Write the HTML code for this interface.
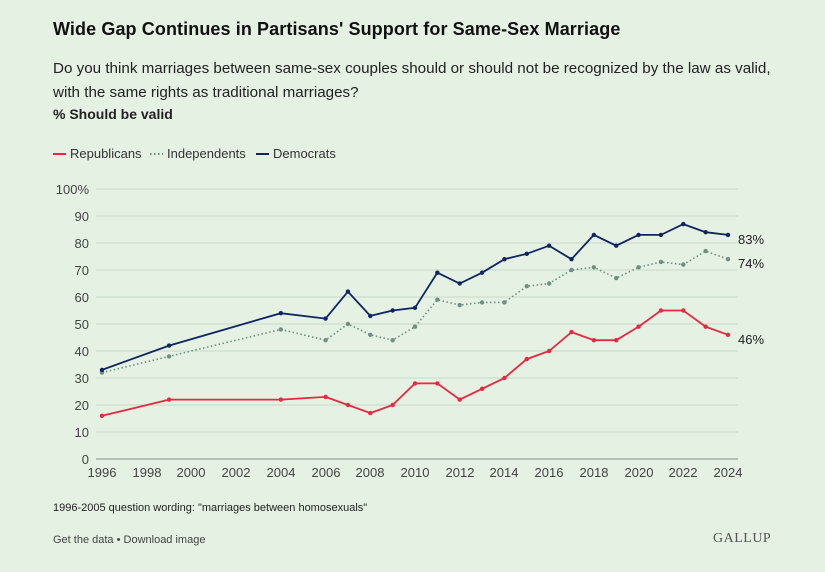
<!DOCTYPE html>
<html><head><meta charset="utf-8"><style>
body{margin:0;background:#fff;}
#c{position:relative;width:825px;height:572px;background:#e4f1e3;font-family:"Liberation Sans",sans-serif;color:#222;overflow:hidden}
.t{position:absolute;white-space:nowrap}
</style></head><body><div id="c">
<div class="t" style="left:53px;top:19px;font-size:18px;font-weight:bold;color:#111;letter-spacing:0.1px">Wide Gap Continues in Partisans' Support for Same-Sex Marriage</div>
<div class="t" style="left:53px;top:57px;font-size:15.2px;line-height:24px;color:#222">Do you think marriages between same-sex couples should or should not be recognized by the law as valid,<br>with the same rights as traditional marriages?</div>
<div class="t" style="left:53px;top:106px;font-size:14px;font-weight:bold">% Should be valid</div>
<div class="t" style="left:53px;top:502px;font-size:11px">1996-2005 question wording: "marriages between homosexuals"</div>
<div class="t" style="left:53px;top:534px;font-size:11px;color:#444">Get the data • Download image</div>
<div class="t" style="left:713px;top:531px;font-size:14px;font-family:'Liberation Serif',serif;color:#555;letter-spacing:0.5px">GALLUP</div>
<svg width="825" height="572" style="position:absolute;left:0;top:0" font-family="Liberation Sans, sans-serif">
<line x1="53" y1="154" x2="66" y2="154" stroke="#e8283f" stroke-width="2"/>
<text x="70" y="158" font-size="13" fill="#333">Republicans</text>
<line x1="150" y1="154" x2="163" y2="154" stroke="#6f8f80" stroke-width="2" stroke-dasharray="1.5,2.5"/>
<text x="167" y="158" font-size="13" fill="#333">Independents</text>
<line x1="256" y1="154" x2="269" y2="154" stroke="#0f2563" stroke-width="2"/>
<text x="273" y="158" font-size="13" fill="#333">Democrats</text>
<g id="grid" font-size="13" fill="#555"></g>
<g id="series"></g>
<text x="738" y="244" font-size="13" fill="#222">83%</text>
<text x="738" y="268" font-size="13" fill="#222">74%</text>
<text x="738" y="344" font-size="13" fill="#222">46%</text>
<g font-size="13" fill="#444" text-anchor="end">
<text x="89" y="194">100%</text><text x="89" y="221">90</text><text x="89" y="248">80</text><text x="89" y="275">70</text><text x="89" y="302">60</text><text x="89" y="329">50</text><text x="89" y="356">40</text><text x="89" y="383">30</text><text x="89" y="410">20</text><text x="89" y="437">10</text><text x="89" y="464">0</text>
</g>
<g font-size="13" fill="#444" text-anchor="middle">
<text x="102" y="477">1996</text><text x="147" y="477">1998</text><text x="191" y="477">2000</text><text x="236" y="477">2002</text><text x="281" y="477">2004</text><text x="326" y="477">2006</text><text x="370" y="477">2008</text><text x="415" y="477">2010</text><text x="460" y="477">2012</text><text x="504" y="477">2014</text><text x="549" y="477">2016</text><text x="594" y="477">2018</text><text x="639" y="477">2020</text><text x="683" y="477">2022</text><text x="728" y="477">2024</text>
</g>
</svg>
<script>
var ns="http://www.w3.org/2000/svg";
function X(y){return 102+(y-1996)*22.357}
function Y(v){return 459-v*2.7}
var g=document.getElementById('grid');
for(var v=0;v<=100;v+=10){var l=document.createElementNS(ns,'line');l.setAttribute('x1',96);l.setAttribute('x2',738);l.setAttribute('y1',Y(v));l.setAttribute('y2',Y(v));l.setAttribute('stroke',v==0?'#888':'#c9d9c8');l.setAttribute('stroke-width',1);g.appendChild(l);}
var yrs=[1996,1999,2004,2006,2007,2008,2009,2010,2011,2012,2013,2014,2015,2016,2017,2018,2019,2020,2021,2022,2023,2024];
var D=[33,42,54,52,62,53,55,56,69,65,69,74,76,79,74,83,79,83,83,87,84,83];
var I=[32,38,48,44,50,46,44,49,59,57,58,58,64,65,70,71,67,71,73,72,77,74];
var R=[16,22,22,23,20,17,20,28,28,22,26,30,37,40,47,44,44,49,55,55,49,46];
var s=document.getElementById('series');
function draw(d,c,dash){var p=yrs.map(function(y,i){return X(y)+','+Y(d[i])}).join(' ');
var pl=document.createElementNS(ns,'polyline');pl.setAttribute('points',p);pl.setAttribute('fill','none');pl.setAttribute('stroke',c);pl.setAttribute('stroke-width',dash?1.6:1.8);if(dash)pl.setAttribute('stroke-dasharray','1.5,2.5');s.appendChild(pl);
yrs.forEach(function(y,i){var ci=document.createElementNS(ns,'circle');ci.setAttribute('cx',X(y));ci.setAttribute('cy',Y(d[i]));ci.setAttribute('r',2.2);ci.setAttribute('fill',c);s.appendChild(ci);});}
draw(R,'#e8283f');draw(I,'#6f8f80',1);draw(D,'#0f2563');
</script>
</div></body></html>
